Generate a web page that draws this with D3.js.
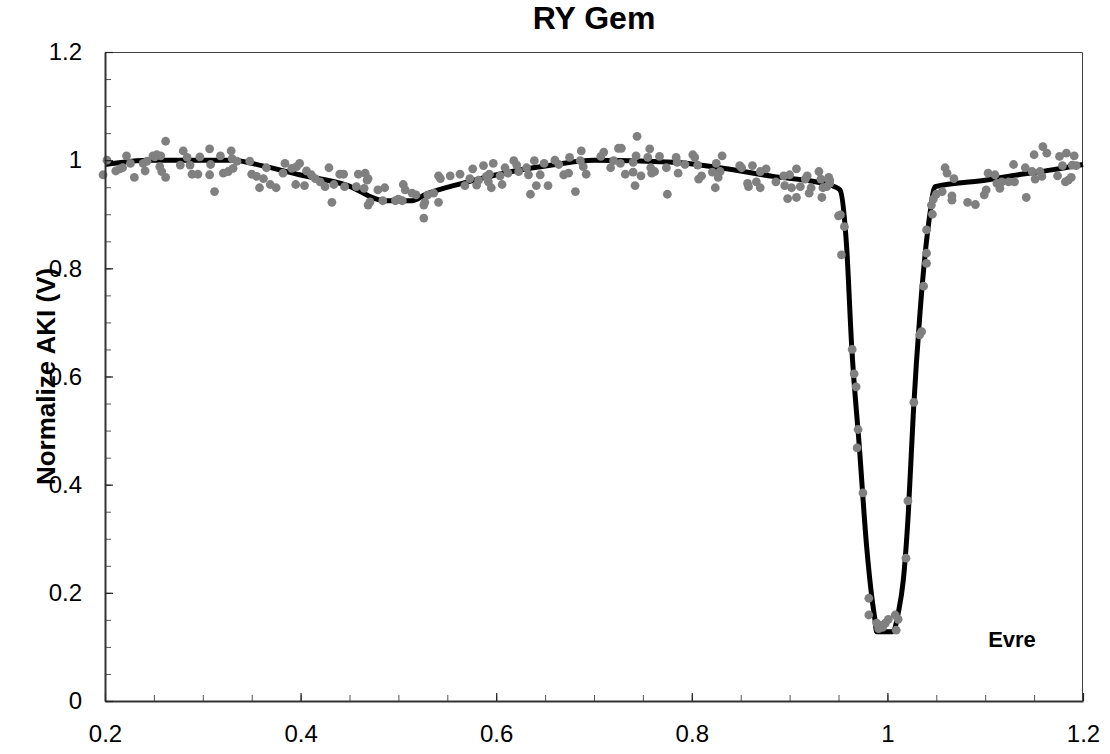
<!DOCTYPE html>
<html>
<head>
<meta charset="utf-8">
<script src="https://cdn.jsdelivr.net/npm/d3@7"></script>
<style>
  body { margin: 0; background: #fff; }
  text { font-family: Arial, "Liberation Sans", sans-serif; }
</style>
</head>
<body>
<svg width="1110" height="754"></svg>
<script>
// light curve of RY Gem, phase vs normalised flux
const title = "RY Gem";
const yTitle = "Normalize AKI (V)";
const note = "Evre";

const xTicks = [0.2, 0.4, 0.6, 0.8, 1, 1.2];
const yTicks = [0, 0.2, 0.4, 0.6, 0.8, 1, 1.2];

// model curve (black)
const modelPhase = [0.2, 0.246, 0.331, 0.36, 0.399, 0.447, 0.486, 0.514, 0.527, 0.565, 0.616, 0.657, 0.70,
  0.781, 0.832, 0.883, 0.934, 0.946, 0.9515, 0.9583, 0.9635, 0.9713, 0.9788, 0.984, 0.9873, 0.989,
  1.0057, 1.0111, 1.0163, 1.0214, 1.0265, 1.0333, 1.0436, 1.0487, 1.0998, 1.134, 1.168, 1.2];
const modelFlux = [0.992, 1.0, 1.0, 0.99, 0.973, 0.954, 0.925, 0.925, 0.936, 0.957, 0.979, 0.991, 1.0,
  0.996, 0.985, 0.970, 0.957, 0.951, 0.945, 0.840, 0.655, 0.470, 0.285, 0.193, 0.150, 0.128,
  0.128, 0.163, 0.224, 0.348, 0.532, 0.717, 0.902, 0.951, 0.963, 0.973, 0.982, 0.992];

// observations (grey dots): [phase, flux]
const obs = [
  [0.198,0.973],[0.202,1.000],[0.211,0.980],[0.215,0.984],[0.218,0.986],[0.222,1.008],[0.226,0.994],
  [0.230,0.968],[0.239,0.994],[0.241,0.980],[0.243,0.998],[0.249,1.008],[0.251,1.006],[0.253,1.010],
  [0.257,1.008],[0.256,0.988],[0.258,0.979],[0.262,1.035],[0.262,0.968],[0.277,0.991],[0.280,1.017],
  [0.284,1.005],[0.287,0.991],[0.289,0.974],[0.295,0.974],[0.297,1.006],[0.307,1.021],[0.308,0.992],
  [0.307,0.973],[0.312,0.942],[0.318,1.008],[0.321,0.976],[0.326,0.979],[0.329,1.017],[0.330,1.003],
  [0.331,0.985],[0.335,0.998],[0.348,0.998],[0.350,0.974],[0.355,0.970],[0.358,0.949],[0.362,0.966],
  [0.365,0.986],[0.369,0.955],[0.375,0.949],[0.382,0.976],[0.384,0.994],[0.391,0.985],[0.395,0.955],
  [0.396,0.988],[0.399,0.994],[0.404,0.953],[0.406,0.980],[0.411,0.973],[0.415,0.966],[0.420,0.960],
  [0.425,0.951],[0.429,0.986],[0.432,0.922],[0.434,0.955],[0.440,0.974],[0.444,0.974],[0.445,0.951],
  [0.459,0.974],[0.466,0.976],[0.468,0.963],[0.457,0.951],[0.469,0.966],[0.465,0.948],[0.471,0.923],
  [0.469,0.917],[0.479,0.945],[0.486,0.949],[0.484,0.925],[0.497,0.925],[0.500,0.928],[0.505,0.955],
  [0.507,0.945],[0.504,0.925],[0.514,0.939],[0.518,0.936],[0.526,0.917],[0.527,0.922],[0.526,0.893],
  [0.530,0.936],[0.536,0.939],[0.541,0.922],[0.541,0.971],[0.543,0.966],[0.553,0.971],[0.563,0.974],
  [0.568,0.953],[0.573,0.966],[0.576,0.984],[0.580,0.954],[0.582,0.963],[0.587,0.990],[0.590,0.970],
  [0.592,0.960],[0.595,0.949],[0.593,0.974],[0.597,0.994],[0.604,0.971],[0.606,0.955],[0.609,0.986],
  [0.612,0.976],[0.618,0.999],[0.621,0.991],[0.623,0.979],[0.631,0.986],[0.633,0.973],[0.635,0.937],
  [0.639,0.999],[0.641,0.953],[0.645,0.973],[0.649,0.994],[0.653,0.953],[0.660,1.000],[0.664,0.992],
  [0.669,0.973],[0.674,0.976],[0.681,0.942],[0.675,1.005],[0.686,0.999],[0.687,1.017],[0.689,0.988],
  [0.692,0.974],
  [0.710,1.015],[0.707,1.007],[0.717,0.986],[0.720,0.999],[0.725,1.022],[0.728,1.022],[0.727,0.994],
  [0.732,0.974],[0.740,0.978],[0.740,0.996],[0.743,1.008],[0.742,0.953],[0.744,1.044],[0.748,0.971],
  [0.755,1.005],[0.757,1.021],[0.758,0.986],[0.759,0.976],[0.762,0.979],[0.767,1.007],[0.774,0.986],
  [0.775,0.937],[0.784,1.005],[0.786,0.976],[0.785,0.996],[0.793,0.992],[0.801,1.010],[0.803,1.005],
  [0.806,0.991],[0.807,0.965],[0.810,0.971],[0.821,0.978],[0.824,0.949],[0.825,0.994],[0.827,0.968],
  [0.829,0.979],[0.831,1.008],[0.849,0.990],[0.851,0.986],[0.857,0.957],[0.858,0.951],[0.862,0.990],
  [0.866,0.960],[0.870,0.949],[0.870,0.979],[0.876,0.984],[0.886,0.960],[0.894,0.971],[0.895,0.953],
  [0.898,0.929],[0.900,0.973],[0.902,0.949],[0.907,0.984],[0.907,0.931],[0.911,0.951],[0.916,0.965],
  [0.918,0.971],[0.920,0.939],[0.922,0.949],[0.930,0.979],[0.932,0.965],[0.933,0.931],[0.934,0.949],
  [0.940,0.968],[0.941,0.963],[0.938,0.951],
  [0.941,0.957],[0.950,0.897],[0.952,0.899],[0.956,0.877],[0.953,0.825],[0.964,0.650],[0.966,0.605],
  [0.968,0.581],[0.970,0.502],[0.969,0.468],[0.975,0.385],[0.981,0.190],[0.981,0.159],[0.989,0.144],
  [0.991,0.134],[0.993,0.140],[0.995,0.136],[0.998,0.144],[1.001,0.151],[1.008,0.159],[1.011,0.151],
  [1.009,0.131],[1.019,0.264],[1.021,0.370],[1.027,0.552],[1.033,0.677],[1.035,0.683],[1.037,0.767],
  [1.040,0.809],[1.040,0.828],[1.040,0.871],
  [1.046,0.900],[1.045,0.917],[1.047,0.928],[1.050,0.937],[1.056,0.942],[1.059,0.986],[1.061,0.976],
  [1.068,0.966],[1.066,0.934],[1.066,0.926],[1.082,0.922],[1.090,0.918],[1.099,0.936],[1.101,0.945],
  [1.103,0.976],[1.110,0.973],[1.112,0.957],[1.115,0.948],[1.117,0.960],[1.124,0.960],[1.129,0.992],
  [1.130,0.960],[1.141,0.986],[1.142,0.931],[1.148,0.979],[1.150,1.010],[1.151,0.965],[1.156,0.979],
  [1.159,1.025],[1.163,1.013],[1.158,0.970],[1.174,0.971],[1.176,1.007],[1.179,0.990],[1.182,0.960],
  [1.183,1.013],[1.185,0.963],[1.188,0.968],[1.191,1.008],[1.189,0.991],[1.193,0.990]
];

let svg = d3.select("svg"),
    margin = {top: 52, right: 27, bottom: 53, left: 105},
    width = +svg.attr("width") - margin.left - margin.right,
    height = +svg.attr("height") - margin.top - margin.bottom,
    g = svg.append("g").attr("transform", "translate(" + margin.left + "," + margin.top + ")");

const x = d3.scaleLinear().domain([0.2, 1.2]).range([0, width]);
const y = d3.scaleLinear().domain([0, 1.2]).range([height, 0]);

// plot frame (top / right)
g.append("path")
    .attr("d", "M0,0.5H" + (width - 0.5) + "V" + height)
    .attr("fill", "none")
    .attr("stroke", "#404040")
    .attr("stroke-width", 1);

// minor ticks
g.append("g")
    .attr("transform", "translate(0," + height + ")")
    .call(d3.axisBottom(x).ticks(25).tickSize(-6).tickSizeOuter(0).tickFormat(""))
    .call(a => a.select(".domain").remove())
    .call(a => a.selectAll("line").attr("stroke", "#555"));
g.append("g")
    .call(d3.axisLeft(y).ticks(30).tickSize(-6).tickSizeOuter(0).tickFormat(""))
    .call(a => a.select(".domain").remove())
    .call(a => a.selectAll("line").attr("stroke", "#555"));

// model line
const line_gen = d3.line()
    .x((d, i) => x(modelPhase[i]))
    .y(d => y(d))
    .curve(d3.curveMonotoneX);

g.append("path")
    .datum(modelFlux)
    .attr("fill", "none")
    .attr("stroke", "#000")
    .attr("stroke-width", 5)
    .attr("stroke-linejoin", "round")
    .attr("d", line_gen);

// observed points
g.append("g")
  .selectAll("circle")
  .data(obs)
  .join("circle")
    .attr("cx", d => x(d[0]))
    .attr("cy", d => y(d[1]))
    .attr("r", 4.4)
    .attr("fill", "#808080");

// major axes
g.append("g")
    .attr("transform", "translate(0," + height + ")")
    .call(d3.axisBottom(x).tickValues(xTicks).tickSize(-8).tickSizeOuter(0).tickPadding(24).tickFormat(d3.format("")))
    .call(a => a.select(".domain").attr("stroke", "#333").attr("stroke-width", 2))
    .call(a => a.selectAll("line").attr("stroke", "#222").attr("stroke-width", 1.2))
    .call(a => a.selectAll("text").attr("font-size", 24).attr("fill", "#000").attr("font-family", "Arial, Liberation Sans"));

g.append("g")
    .call(d3.axisLeft(y).tickValues(yTicks).tickSize(-8).tickSizeOuter(0).tickPadding(23).tickFormat(d3.format("")))
    .call(a => a.select(".domain").attr("stroke", "#333").attr("stroke-width", 2))
    .call(a => a.selectAll("line").attr("stroke", "#222").attr("stroke-width", 1.2))
    .call(a => a.selectAll("text").attr("font-size", 24).attr("fill", "#000").attr("font-family", "Arial, Liberation Sans"));

// titles
svg.append("text")
    .attr("x", margin.left + width / 2)
    .attr("y", 29)
    .attr("text-anchor", "middle")
    .attr("font-size", 32)
    .attr("font-weight", "bold")
    .text(title);

svg.append("text")
    .attr("transform", "translate(55," + (margin.top + height / 2) + ") rotate(-90)")
    .attr("text-anchor", "middle")
    .attr("font-size", 26)
    .attr("font-weight", "bold")
    .text(yTitle);

g.append("text")
    .attr("x", x(1.103))
    .attr("y", y(0.1))
    .attr("font-size", 22)
    .attr("font-weight", "bold")
    .text(note);
</script>
</body>
</html>
